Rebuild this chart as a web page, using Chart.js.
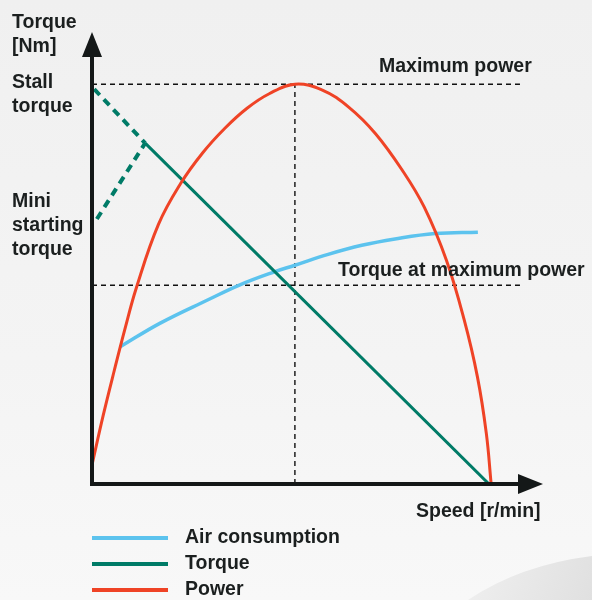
<!DOCTYPE html>
<html>
<head>
<meta charset="utf-8">
<script src="https://cdn.jsdelivr.net/npm/chart.js@4"></script>
<style>
  html, body { margin: 0; padding: 0; background: #f3f3f3; }
  #wrap { position: relative; width: 592px; height: 600px; }
</style>
</head>
<body>
<div id="wrap"><canvas id="motorChart"></canvas></div>
<script>
// Speed / value pairs in relative units (0 = stopped, ~90 = free speed)
const airSpeed   = [6.3, 15.3, 26.2, 33.4, 41.3, 45.8, 53.3, 60.9, 68.4, 77.4, 87.1];
const airValue   = [30.2, 35.4, 40.6, 43.9, 46.8, 48.2, 50.6, 52.6, 54.0, 55.2, 55.5];

const torqueSpeed = [12.0, 89.6];
const torqueValue = [75.1, 0];

const stallSpeed = [0.5, 12.0];
const stallValue = [87.0, 75.1];

const miniSpeed = [1.1, 12.0];
const miniValue = [58.4, 75.1];

const powerSpeed = [0, 2.5, 5, 7.5, 10, 15, 20, 25, 30, 35, 40, 45.8,
                    52, 58, 64, 70, 75, 80, 84, 87, 89, 90.1];
const powerValue = [4.2, 15.0, 24.9, 34.4, 43.2, 57.2, 66.2, 73.0, 78.4, 82.8, 86.0, 88.1,
                    86.8, 83.0, 77.2, 69.2, 61.0, 49.3, 36.2, 23.6, 11.2, 0];

// guide lines
const maxPowerSpeed = 45.8;
const maxPowerLevel = 88.1;
const torqueAtMaxPower = 43.8;
const guideEnd = 96.6;

const legendNames = ['Air consumption', 'Torque', 'Power'];

const BLUE = '#5cc3ee';
const TEAL = '#007b67';
const RED = '#ef4326';
const INK = '#1b1f1f';

function pts(xs, ys) {
  return xs.map((x, i) => ({ x: x, y: ys[i] }));
}

function guide(data) {
  return {
    label: '', data: data, showLine: true, borderColor: '#111',
    borderWidth: 1.4, borderDash: [5, 4], pointRadius: 0, order: 5
  };
}

const FONT = 'bold 19.5px "Liberation Sans", Arial, sans-serif';

const decor = {
  id: 'decor',
  beforeDraw(chart) {
    const c = chart.ctx;
    const w = chart.width, h = chart.height;
    c.save();
    const g = c.createLinearGradient(0, 0, 0, h);
    g.addColorStop(0, '#f0f0f0');
    g.addColorStop(0.6, '#f4f4f4');
    g.addColorStop(1, '#f8f8f8');
    c.fillStyle = g;
    c.fillRect(0, 0, w, h);
    // soft swoosh in the bottom right corner
    const s = c.createLinearGradient(480, 560, 592, 600);
    s.addColorStop(0, '#eeeeee');
    s.addColorStop(1, '#e0e0e0');
    c.beginPath();
    c.moveTo(468, 600);
    c.quadraticCurveTo(520, 565, 592, 556);
    c.lineTo(592, 600);
    c.closePath();
    c.fillStyle = s;
    c.fill();
    c.restore();
  },
  afterDatasetsDraw(chart) {
    const c = chart.ctx;
    const xs = chart.scales.x, ys = chart.scales.y;
    const area = chart.chartArea;
    const x0 = xs.getPixelForValue(0), y0 = ys.getPixelForValue(0);
    c.save();
    // axes with arrow heads
    c.strokeStyle = '#141818';
    c.fillStyle = '#141818';
    c.lineWidth = 4;
    c.beginPath();
    c.moveTo(x0, area.top + 24);
    c.lineTo(x0, y0);
    c.lineTo(area.right - 24, y0);
    c.stroke();
    c.beginPath();
    c.moveTo(x0, area.top);
    c.lineTo(x0 - 10, area.top + 25);
    c.lineTo(x0 + 10, area.top + 25);
    c.closePath();
    c.fill();
    c.beginPath();
    c.moveTo(area.right, y0);
    c.lineTo(area.right - 25, y0 - 10);
    c.lineTo(area.right - 25, y0 + 10);
    c.closePath();
    c.fill();

    // labels
    c.font = FONT;
    c.fillStyle = INK;
    c.textBaseline = 'alphabetic';
    c.textAlign = 'left';
    c.fillText('Torque', 12, 28);
    c.fillText('[Nm]', 12, 52);
    c.fillText('Stall', 12, 88);
    c.fillText('torque', 12, 112);
    c.fillText('Mini', 12, 207);
    c.fillText('starting', 12, 231);
    c.fillText('torque', 12, 255);
    c.fillText('Maximum power', 379, ys.getPixelForValue(maxPowerLevel) - 12);
    c.fillText('Torque at maximum power', 338, ys.getPixelForValue(torqueAtMaxPower) - 9);
    c.fillText('Speed [r/min]', 416, 517);

    // legend
    const rows = [538, 564, 590];
    legendNames.forEach((name, i) => {
      const ds = chart.data.datasets.find(d => d.label === name);
      c.strokeStyle = ds.borderColor;
      c.lineWidth = 4;
      c.setLineDash([]);
      c.beginPath();
      c.moveTo(92, rows[i]);
      c.lineTo(168, rows[i]);
      c.stroke();
      c.fillStyle = INK;
      c.fillText(name, 185, rows[i] + 5);
    });
    c.restore();
  }
};

new Chart(document.getElementById('motorChart'), {
  type: 'scatter',
  data: {
    datasets: [
      {
        label: 'Air consumption', data: pts(airSpeed, airValue), showLine: true,
        borderColor: BLUE, borderWidth: 3.5, pointRadius: 0, tension: 0.4, order: 3
      },
      {
        label: 'Torque', data: pts(torqueSpeed, torqueValue), showLine: true,
        borderColor: TEAL, borderWidth: 3, pointRadius: 0, order: 2
      },
      {
        label: 'Stall torque', data: pts(stallSpeed, stallValue), showLine: true,
        borderColor: TEAL, borderWidth: 4, borderDash: [8, 6], pointRadius: 0, order: 2
      },
      {
        label: 'Mini starting torque', data: pts(miniSpeed, miniValue), showLine: true,
        borderColor: TEAL, borderWidth: 4, borderDash: [8, 6], pointRadius: 0, order: 2
      },
      {
        label: 'Power', data: pts(powerSpeed, powerValue), showLine: true,
        borderColor: RED, borderWidth: 3, pointRadius: 0, tension: 0.4, order: 1
      },
      guide([{ x: 0, y: maxPowerLevel }, { x: guideEnd, y: maxPowerLevel }]),
      guide([{ x: maxPowerSpeed, y: 0 }, { x: maxPowerSpeed, y: maxPowerLevel }]),
      guide([{ x: 0, y: torqueAtMaxPower }, { x: guideEnd, y: torqueAtMaxPower }])
    ]
  },
  options: {
    responsive: true,
    maintainAspectRatio: false,
    animation: false,
    layout: { padding: { left: 92, right: 49, top: 32, bottom: 116 } },
    scales: {
      x: { type: 'linear', display: false, min: 0, max: 101.8 },
      y: { type: 'linear', display: false, min: 0, max: 99.6 }
    },
    plugins: {
      legend: { display: false },
      tooltip: { enabled: false }
    }
  },
  plugins: [decor]
});
</script>
</body>
</html>
